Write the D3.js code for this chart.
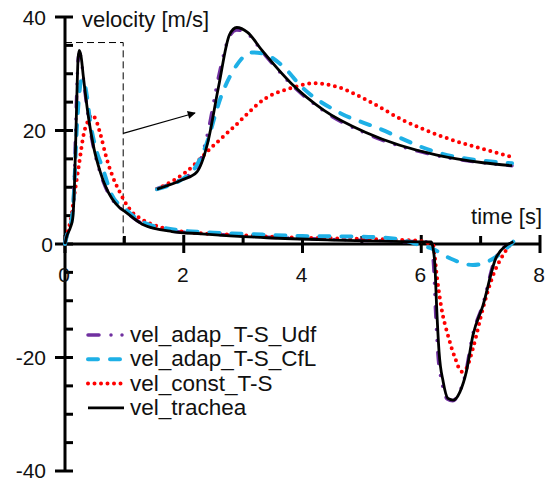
<!DOCTYPE html>
<html>
<head>
<meta charset="utf-8">
<script src="https://cdn.jsdelivr.net/npm/d3@7"></script>
<style>
  body { margin: 0; background: #fff; }
  text { font-family: "Liberation Sans", Arial, sans-serif; fill: #111; }
</style>
</head>
<body>
<div id="chart"></div>
<script>
var w = 551,
    h = 481;

// series values, [time s, velocity m/s]
var trachea = [[0,0],[0.02,1.0],[0.09,2.9],[0.13,4.5],[0.16,10.5],[0.19,22.0],[0.22,32.6],[0.24,34.1],[0.27,33.1],
  [0.31,29.4],[0.39,22.7],[0.48,17.2],[0.6,12.5],[0.79,8.0],[0.92,6.4],[1.0,5.8],[1.3,3.5],[1.8,2.2],[2.3,1.8],
  [3.4,1.1],[4.5,0.7],[5.5,0.45],[6.17,0.35],[6.2,-0.8],[6.23,-3.7],[6.26,-11.3],[6.3,-19],[6.37,-24.3],[6.45,-27.2],
  [6.54,-27.5],[6.65,-26.1],[6.76,-22.5],[6.87,-16.1],[7.04,-10.8],[7.27,-2.2],[7.55,0.4]];
var adapUdf = [[0,0],[0.02,1.1],[0.09,3.2],[0.13,5.3],[0.16,12.5],[0.19,24],[0.22,32.3],[0.24,33.6],[0.27,32.8],
  [0.31,29.2],[0.39,22.5],[0.48,17],[0.6,12.3],[0.79,7.9],[0.92,6.4],[1.0,5.8],[1.3,3.6],[1.8,2.3],[2.3,1.9],
  [3.4,1.2],[4.5,0.8],[5.5,0.5],[6.15,0.35],[6.18,-0.8],[6.21,-4],[6.24,-11.5],[6.28,-19.2],[6.35,-24.5],[6.44,-27.3],
  [6.53,-27.6],[6.64,-26.2],[6.75,-22.6],[6.86,-16.3],[7.03,-10.9],[7.26,-2.3],[7.55,0.4]];
var adapCfL = [[0,0],[0.02,1.0],[0.12,4.9],[0.15,9],[0.2,20.6],[0.24,26.4],[0.28,29.0],[0.31,28.8],[0.37,26],
  [0.42,21.9],[0.52,16.8],[0.63,13.5],[0.79,8.6],[1.0,6.3],[1.3,3.9],[1.8,2.6],[2.5,2.0],[3,1.8],[4,1.4],[5,1.3],
  [5.64,0.8],[5.98,-0.2],[6.2,-0.9],[6.48,-2.5],[6.87,-3.7],[7.27,-2.2],[7.55,0.4]];
var constTS = [[0,0],[0.02,1.0],[0.1,4.5],[0.17,9.5],[0.23,13.6],[0.32,19.6],[0.4,21.9],[0.45,22.7],[0.52,21.9],
  [0.6,19.2],[0.7,15.1],[0.81,11.7],[0.92,9.2],[1.0,7.6],[1.1,6.0],[1.32,4.2],[1.6,3.0],[1.95,2.2],[2.85,1.6],
  [4,1.1],[5,0.9],[5.9,0.6],[6.2,-0.2],[6.26,-5.5],[6.34,-11.3],[6.45,-16.1],[6.57,-20.1],[6.68,-22.5],[6.76,-21.9],
  [6.87,-18.4],[7.04,-11.3],[7.21,-5.5],[7.38,-1.9],[7.52,0.2]];

var seriesNames = ["vel_adap_T-S_Udf", "vel_adap_T-S_CfL", "vel_const_T-S", "vel_trachea"];
var seriesData = [adapUdf, adapCfL, constTS, trachea];
var seriesColors = ["#7030a0", "#1eb0e6", "#ff0000", "#000000"];
var drawOrder = [0, 2, 1, 3];

var xMajor = [0, 2, 4, 6, 8],
    xMinor = [1, 3, 5, 7],
    yMajor = [-40, -20, 0, 20, 40],
    yMinor = [-35, -30, -25, -15, -10, -5, 5, 10, 15, 25, 30, 35];
var zoomRange = [0, 0.98],
    zoomTop = 35.5;

var svg = d3.select("#chart").append("svg")
  .attr("width", w)
  .attr("height", h);

var x = d3.scaleLinear().domain([0, 8]).range([65, 540]),
    y = d3.scaleLinear().domain([-40, 40]).range([471, 17]);

// inset, zoom of the first second
var ix = d3.scaleLinear().domain([0.02, 1.0]).range([157, 512]),
    iy = d3.scaleLinear().domain([0, 34]).range([194, 28]);

function styleLine(sel, i) {
  sel.attr("fill", "none")
    .attr("stroke", seriesColors[i])
    .attr("stroke-linejoin", "round");
  if (i == 0) sel.attr("stroke-width", 3.5).attr("stroke-linecap", "round").attr("stroke-dasharray", "11,12,0,11,0,12");
  if (i == 1) sel.attr("stroke-width", 4).attr("stroke-linecap", "round").attr("stroke-dasharray", "10,12");
  if (i == 2) sel.attr("stroke-width", 4).attr("stroke-linecap", "round").attr("stroke-dasharray", "0,6.5");
  if (i == 3) sel.attr("stroke-width", 2.8);
  return sel;
}

// axes
var axis = svg.append("g").attr("stroke", "#000");
axis.append("line").attr("x1", x(0)).attr("x2", x(0)).attr("y1", y(40)).attr("y2", y(-40)).attr("stroke-width", 3);
axis.append("line").attr("x1", x(0)).attr("x2", x(8)).attr("y1", y(0)).attr("y2", y(0)).attr("stroke-width", 3);

axis.selectAll(".ymaj").data(yMajor).enter().append("line")
  .attr("x1", x(0) - 10).attr("x2", x(0) + 8)
  .attr("y1", function(d) { return y(d); }).attr("y2", function(d) { return y(d); })
  .attr("stroke-width", 3);
axis.selectAll(".ymin").data(yMinor).enter().append("line")
  .attr("x1", x(0)).attr("x2", x(0) + 8)
  .attr("y1", function(d) { return y(d); }).attr("y2", function(d) { return y(d); })
  .attr("stroke-width", 3);
axis.selectAll(".xmaj").data(xMajor).enter().append("line")
  .attr("x1", function(d) { return x(d); }).attr("x2", function(d) { return x(d); })
  .attr("y1", y(0) - 9).attr("y2", y(0) + 9)
  .attr("stroke-width", 3);
axis.selectAll(".xmin").data(xMinor).enter().append("line")
  .attr("x1", function(d) { return x(d); }).attr("x2", function(d) { return x(d); })
  .attr("y1", y(0) - 8).attr("y2", y(0))
  .attr("stroke-width", 3);

svg.selectAll(".ylab").data(yMajor).enter().append("text")
  .attr("x", function(d) { return d == 0 ? 53 : 46; })
  .attr("y", function(d) { return Math.min(y(d) + 7.5, h - 3); })
  .attr("text-anchor", "end")
  .style("font-size", "21px")
  .text(function(d) { return d; });
svg.selectAll(".xlab").data(xMajor).enter().append("text")
  .attr("x", function(d) { return x(d) - 1; })
  .attr("y", y(0) + 38)
  .attr("text-anchor", "middle")
  .style("font-size", "21px")
  .text(function(d) { return d; });

svg.append("text").attr("x", 82).attr("y", 27).style("font-size", "22px").text("velocity [m/s]");
svg.append("text").attr("x", 542).attr("y", 224).attr("text-anchor", "end").style("font-size", "22px").text("time [s]");

// zoom box and arrow
svg.append("rect")
  .attr("x", x(zoomRange[0])).attr("y", y(zoomTop))
  .attr("width", x(zoomRange[1]) - x(zoomRange[0])).attr("height", y(0) - y(zoomTop))
  .attr("fill", "none").attr("stroke", "#000").attr("stroke-width", 1)
  .attr("stroke-dasharray", "7,4");

svg.append("defs").append("marker")
  .attr("id", "head").attr("viewBox", "0 0 10 10")
  .attr("refX", 9).attr("refY", 5)
  .attr("markerWidth", 10).attr("markerHeight", 8)
  .attr("markerUnits", "userSpaceOnUse")
  .attr("orient", "auto")
  .append("path").attr("d", "M0,0 L10,5 L0,10 z").attr("fill", "#000");
svg.append("line")
  .attr("x1", x(zoomRange[1])).attr("y1", y(19.5))
  .attr("x2", 195).attr("y2", 113)
  .attr("stroke", "#000").attr("stroke-width", 1.2)
  .attr("marker-end", "url(#head)");

// main curves
var line = d3.line()
  .x(function(d) { return x(d[0]); })
  .y(function(d) { return y(d[1]); })
  .curve(d3.curveMonotoneX);

drawOrder.forEach(function(i) {
  svg.append("path").datum(seriesData[i]).attr("d", line).call(styleLine, i);
});

// inset curves
var insetLine = d3.line()
  .x(function(d) { return ix(d[0]); })
  .y(function(d) { return iy(d[1]); })
  .curve(d3.curveMonotoneX);

drawOrder.forEach(function(i) {
  var part = seriesData[i].filter(function(d) { return d[0] >= 0.02 && d[0] <= 1.0; });
  svg.append("path").datum(part).attr("d", insetLine).call(styleLine, i);
});

// legend
var legend = svg.selectAll(".legend").data(seriesNames).enter().append("g")
  .attr("transform", function(d, i) { return "translate(0," + (335 + i * 24.3) + ")"; });
legend.append("line")
  .attr("x1", 88).attr("x2", 124).attr("y1", 0).attr("y2", 0)
  .each(function(d, i) { d3.select(this).call(styleLine, i); });
legend.append("text")
  .attr("x", 130).attr("y", 7)
  .style("font-size", "22.5px")
  .text(function(d) { return d; });
</script>
</body>
</html>
